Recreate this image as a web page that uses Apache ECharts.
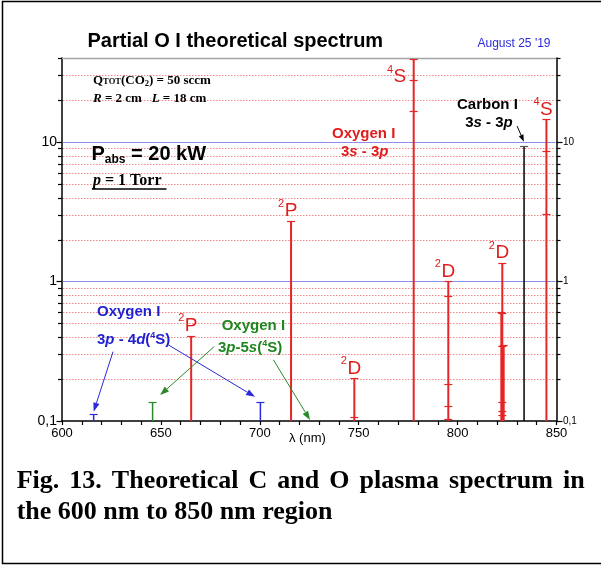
<!DOCTYPE html>
<html><head><meta charset="utf-8">
<script src="https://cdn.jsdelivr.net/npm/echarts@6/dist/echarts.min.js"></script>
<style>html,body{margin:0;padding:0;background:#fff}#c{width:601px;height:565px}</style>
</head><body><div id="c"></div>
<script>
// ---------------- data ----------------
const xLabelValues = [600, 650, 700, 750, 800, 850];
const yLabelValues = [0.1, 1, 10];
const yLabelTexts  = ['0,1', '1', '10'];
const majorGridValues = [1, 10];
const minorGridValues = [0.2,0.3,0.4,0.5,0.6,0.7,0.8,0.9,2,3,4,5,6,7,8,9,20,30];
const edgeTickValues = [0.1, 40];

// Oxygen I 3s-3p and other red O I lines
const redWl   = [665.3, 715.8, 747.8, 777.8, 795.3, 822.6, 844.9];
const redTop  = [0.41, 2.7, 0.202, 39.5, 1.0, 1.36, 14.5];
const redTerm = ['P', 'P', 'D', 'S', 'D', 'D', 'S'];
const redMult = ['2', '2', '2', '4', '2', '2', '4'];
const redBlendWl  = [822.1, 823.3];
const redBlendTop = [0.6, 0.35];
const redCompWl  = [747.8, 777.8, 777.8, 795.3, 795.3, 795.3, 795.3, 822.6, 822.6, 822.6, 822.6, 822.6, 844.9, 844.9];
const redCompVal = [0.107, 27.7, 16.8, 0.786, 0.183, 0.128, 0.103, 0.594, 0.345, 0.136, 0.117, 0.110, 8.6, 3.03];
// Carbon I 3s-3p
const carbonWl  = [833.6];
const carbonTop = [9.36];
// Oxygen I 3p-4d(4S)
const blueWl  = [616.0, 700.3];
const blueTop = [0.112, 0.137];
// Oxygen I 3p-5s(4S)
const greenWl  = [645.8];
const greenTop = [0.137];
// annotation arrows (data coordinates)
const arrowFromWl  = [625.8, 653.8, 676.9, 706.9, 830.1];
const arrowFromVal = [0.314, 0.351, 0.341, 0.274, 13.0];
const arrowToWl    = [616.0, 697.6, 649.6, 725.4, 833.5];
const arrowToVal   = [0.1166, 0.149, 0.1536, 0.1017, 10.05];
const arrowKind    = ['blue', 'blue', 'green', 'green', 'black'];

// ---------------- style ----------------
const AR = '"Liberation Sans", Arial, Helvetica, sans-serif';
const TR = '"Liberation Serif", "Times New Roman", Times, serif';
const COL = { red: '#e52626', blue: '#2a2ad8', green: '#2a8a2a', black: '#000000' };
const TXT = { red: '#e01c1c', blue: '#1f1fd0', green: '#1f861f' };

const mctx = document.createElement('canvas').getContext('2d');
function fontStr(size, weight, style, fam) { return (style || 'normal') + ' ' + (weight || 'normal') + ' ' + size + 'px ' + fam; }
function measure(t, font) { mctx.font = font; return mctx.measureText(t).width; }
function txtEl(x, base, t, font, size, fill, align) {
  return { type: 'text', x: x, y: base - 0.345 * size, z: 100, silent: true,
    style: { text: t, font: font, fill: fill, align: align || 'left', textAlign: align || 'left', verticalAlign: 'middle', textVerticalAlign: 'middle' } };
}
function runs(x, base, parts, fill, align) {
  const items = parts.map(p => { const font = fontStr(p[1], p[2], p[3], p[4]); return { t: p[0], size: p[1], font: font, dy: p[5] || 0, w: measure(p[0], font) }; });
  const total = items.reduce((s, i) => s + i.w, 0);
  let cx = align === 'center' ? x - total / 2 : x;
  return items.map(i => { const el = txtEl(cx, base + i.dy, i.t, i.font, i.size, fill); cx += i.w; return el; });
}
function justified(x, base, width, text, size) {
  const font = fontStr(size, 'bold', '', TR);
  const words = text.split(' ');
  const ws = words.map(w => measure(w, font));
  const gap = (width - ws.reduce((a, b) => a + b, 0)) / (words.length - 1);
  let cx = x;
  return words.map((w, i) => { const el = txtEl(cx, base, w, font, size, '#000'); cx += ws[i] + gap; return el; });
}
function L(x1, y1, x2, y2, stroke, w, dash) {
  return { type: 'line', shape: { x1: x1, y1: y1, x2: x2, y2: y2 }, style: { stroke: stroke, lineWidth: w, lineDash: dash || null } };
}
const B = 'bold', I = 'italic';

// ---------------- graphic texts ----------------
let g = [];
g.push({ type: 'rect', z: 100, silent: true, shape: { x: 2.5, y: 1.5, width: 602, height: 562 }, style: { fill: 'none', stroke: '#000', lineWidth: 1.5 } });
g = g.concat(runs(87.5, 48.5, [['Partial O I theoretical spectrum', 20, B, '', AR]], '#000'));
g = g.concat(runs(477.5, 48.3, [["August 25 '19", 12, 'normal', '', AR]], '#2b2bdb'));
g = g.concat(runs(93, 85, [['Q', 13, B, '', TR], ['TOT', 8.5, B, '', TR], ['(CO', 13, B, '', TR], ['2', 8.5, B, '', TR, 2], [') = 50 sccm', 13, B, '', TR]], '#000'));
g = g.concat(runs(93, 103.5, [['R', 13, B, I, TR], [' = 2 cm   ', 13, B, '', TR], ['L', 13, B, I, TR], [' = 18 cm', 13, B, '', TR]], '#000'));
g = g.concat(runs(91.5, 161.7, [['P', 20, B, '', AR], ['abs', 12, B, '', AR, 2], [' = 20 kW', 20, B, '', AR]], '#000'));
g = g.concat(runs(93, 186.5, [['p', 16, B, I, TR], [' = 1 Torr', 16, B, '', TR]], '#000'));
g.push({ type: 'line', z: 100, silent: true, shape: { x1: 92, y1: 189, x2: 166.5, y2: 189 }, style: { stroke: '#000', lineWidth: 1.4 } });
// red Oxygen I
g = g.concat(runs(332, 139, [['Oxygen I', 15, B, '', AR]], TXT.red));
g = g.concat(runs(364.7, 157, [['3', 15, B, '', AR], ['s', 15, B, I, AR], [' - 3', 15, B, '', AR], ['p', 15, B, I, AR]], TXT.red, 'center'));
// Carbon I
g = g.concat(runs(457, 110, [['Carbon I', 15, B, '', AR]], '#000'));
g = g.concat(runs(489, 127.7, [['3', 15, B, '', AR], ['s', 15, B, I, AR], [' - 3', 15, B, '', AR], ['p', 15, B, I, AR]], '#000', 'center'));
// blue Oxygen I
g = g.concat(runs(97, 317.3, [['Oxygen I', 15, B, '', AR]], TXT.blue));
g = g.concat(runs(97, 345, [['3', 15, B, '', AR], ['p', 15, B, I, AR], [' - 4', 15, B, '', AR], ['d', 15, B, I, AR], ['(', 15, B, '', AR], ['4', 9, B, '', AR, -6.5], ['S)', 15, B, '', AR]], TXT.blue));
// green Oxygen I
g = g.concat(runs(221.7, 331, [['Oxygen I', 15, B, '', AR]], TXT.green));
g = g.concat(runs(218, 353, [['3', 15, B, '', AR], ['p', 15, B, I, AR], ['-5', 15, B, '', AR], ['s', 15, B, I, AR], ['(', 15, B, '', AR], ['4', 9, B, '', AR, -6.5], ['S)', 15, B, '', AR]], TXT.green));
// axis name
g = g.concat(runs(289, 443, [['λ (nm)', 13, 'normal', '', AR]], '#000'));
// caption
g = g.concat(justified(16.7, 490.5, 568, 'Fig. 13. Theoretical C and O plasma spectrum in', 26));
g = g.concat(runs(16.7, 521.5, [['the 600 nm to 850 nm region', 26, B, '', TR]], '#000'));

// ---------------- series data ----------------
const specData = [];
redWl.forEach((w, i) => specData.push([w, redTop[i], 'red']));
redBlendWl.forEach((w, i) => specData.push([w, redBlendTop[i], 'red']));
carbonWl.forEach((w, i) => specData.push([w, carbonTop[i], 'black']));
blueWl.forEach((w, i) => specData.push([w, blueTop[i], 'blue']));
greenWl.forEach((w, i) => specData.push([w, greenTop[i], 'green']));
const compData = redCompWl.map((w, i) => [w, redCompVal[i]]);
const labelData = redWl.map((w, i) => [w, redTop[i]]);
const arrowData = arrowFromWl.map((w, i) => [w, arrowFromVal[i], arrowToWl[i], arrowToVal[i]]);

function yLabelFmt(v) {
  for (let i = 0; i < yLabelValues.length; i++) if (Math.abs(v - yLabelValues[i]) < 1e-6 * yLabelValues[i]) return yLabelTexts[i];
  return '';
}
const yBase = { type: 'log', logBase: 10, min: 0.1, max: 40,
  axisLine: { show: true, lineStyle: { color: '#000', width: 1.5 } },
  axisTick: { show: false }, splitLine: { show: false } };

const option = {
  animation: false,
  backgroundColor: '#fff',
  grid: { left: 62, right: 44.5, top: 58, bottom: 144 },
  xAxis: { type: 'value', min: 600, max: 850, interval: 10,
    axisLine: { lineStyle: { color: '#000', width: 1.5 } },
    axisTick: { length: 4, lineStyle: { color: '#000', width: 1.2 } },
    splitLine: { show: false },
    axisLabel: { color: '#000', fontSize: 13, fontFamily: AR, margin: 6,
      formatter: v => xLabelValues.indexOf(v) >= 0 ? String(v) : '' } },
  yAxis: [
    Object.assign({}, yBase, { position: 'left', axisLabel: { color: '#000', fontSize: 14, fontFamily: AR, margin: 5, formatter: yLabelFmt } }),
    Object.assign({}, yBase, { position: 'right', axisLabel: { color: '#000', fontSize: 10, fontFamily: AR, margin: 6.5, formatter: yLabelFmt } })
  ],
  graphic: g,
  series: [
    { type: 'custom', z: 1, silent: true, data: minorGridValues.map(v => [600, v]),
      renderItem: (p, api) => { const v = api.value(1); const l = api.coord([600, v]), r = api.coord([850, v]); const y = Math.round(l[1]) + 0.5;
        return { type: 'group', children: [L(l[0] + 1, y, r[0] - 1, y, '#ee8a8a', 1, [1.5, 1.5]), L(l[0] - 4, y, l[0], y, '#000', 1.2), L(r[0], y, r[0] + 4, y, '#000', 1.2)] }; } },
    { type: 'custom', z: 1, silent: true, data: majorGridValues.map(v => [600, v]),
      renderItem: (p, api) => { const v = api.value(1); const l = api.coord([600, v]), r = api.coord([850, v]); const y = Math.round(l[1]) + 0.5;
        return { type: 'group', children: [L(l[0] + 1, y, r[0] - 1, y, '#8e8ee8', 1.2), L(l[0] - 5.5, y, l[0], y, '#000', 1.2), L(r[0], y, r[0] + 6, y, '#000', 1.2)] }; } },
    { type: 'custom', z: 1, silent: true, data: edgeTickValues.map(v => [600, v]),
      renderItem: (p, api) => { const v = api.value(1); const l = api.coord([600, v]), r = api.coord([850, v]); const y = Math.round(l[1]) + 0.5;
        const ch = p.dataIndex === 0 ? [L(l[0] - 5.5, y, l[0], y, '#000', 1.2), L(r[0], y, r[0] + 6, y, '#000', 1.2)]
          : [L(l[0], y, r[0], y, '#a4a4a4', 1.5), L(l[0] - 4, y, l[0], y, '#000', 1.2), L(r[0], y, r[0] + 4, y, '#000', 1.2)];
        return { type: 'group', children: ch }; } },
    { type: 'custom', z: 3, silent: true, data: specData,
      renderItem: (p, api) => { const row = specData[p.dataIndex]; const b = api.coord([row[0], 0.1]), t = api.coord([row[0], row[1]]);
        const c = COL[row[2]]; const w = row[2] === 'red' ? 2 : 1.5; const ty = Math.round(t[1]) + 0.5;
        return { type: 'group', children: [L(b[0], b[1], t[0], ty, c, w), L(t[0] - 4, ty, t[0] + 4, ty, row[2] === 'black' ? '#555' : c, 1.2)] }; } },
    { type: 'custom', z: 4, silent: true, data: compData,
      renderItem: (p, api) => { const t = api.coord([api.value(0), api.value(1)]); const y = Math.round(t[1]) + 0.5;
        return L(t[0] - 4, y, t[0] + 4, y, COL.red, 1.2); } },
    { type: 'custom', z: 5, silent: true, data: labelData,
      renderItem: (p, api) => { const i = p.dataIndex; const t = api.coord([api.value(0), api.value(1)]);
        const lf = fontStr(19, 'normal', '', AR), df = fontStr(11, 'normal', '', AR);
        const lw = measure(redTerm[i], lf), dw = measure(redMult[i], df);
        let base, left;
        if (i === 3) { base = t[1] + 25; left = t[0] - 7.5 - lw; } else { base = t[1] - 3.5; left = t[0] - lw / 2; }
        const mk = (x, bs, s, f, size) => ({ type: 'text', x: x, y: bs - 0.345 * size, style: { text: s, font: f, fill: TXT.red, align: 'left', textAlign: 'left', verticalAlign: 'middle', textVerticalAlign: 'middle' } });
        return { type: 'group', children: [mk(left, base, redTerm[i], lf, 19), mk(left - dw - 0.5, base - 10, redMult[i], df, 11)] }; } },
    { type: 'custom', z: 6, silent: true, data: arrowData,
      renderItem: (p, api) => { const i = p.dataIndex; const a = api.coord([api.value(0), api.value(1)]), b = api.coord([api.value(2), api.value(3)]);
        const c = COL[arrowKind[i]]; const dx = b[0] - a[0], dy = b[1] - a[1], len = Math.hypot(dx, dy); const ux = dx / len, uy = dy / len;
        const hl = arrowKind[i] === 'black' ? 7 : 9, hw = arrowKind[i] === 'black' ? 2.5 : 3.2;
        const bx = b[0] - ux * hl, by = b[1] - uy * hl;
        return { type: 'group', children: [L(a[0], a[1], bx, by, c, 1),
          { type: 'polygon', shape: { points: [[b[0], b[1]], [bx - uy * hw, by + ux * hw], [bx + uy * hw, by - ux * hw]] }, style: { fill: c } }] }; } }
  ]
};
const chart = echarts.init(document.getElementById('c'), null, { renderer: 'canvas' });
chart.setOption(option);
</script></body></html>
